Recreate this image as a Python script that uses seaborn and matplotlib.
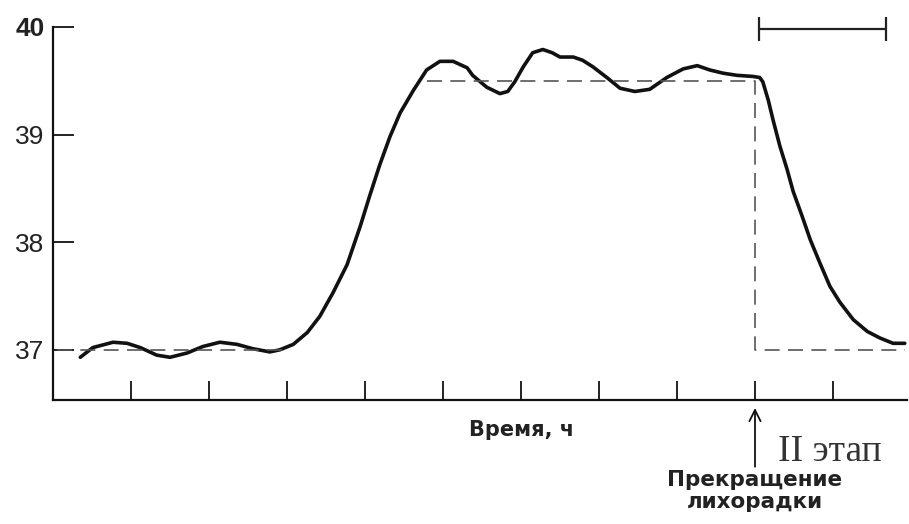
## Temperature curve: fever onset, plateau and end of fever

import seaborn as sns
import matplotlib.pyplot as plt
import pandas as pd

# curve (time in tick units, temperature in C)
time_h = [0.35, 0.51, 0.77, 0.95, 1.12, 1.33, 1.50, 1.72, 1.92, 2.14,
          2.36, 2.56, 2.78, 2.91, 3.08, 3.26, 3.42, 3.59, 3.77, 3.94,
          4.06, 4.19, 4.32, 4.45, 4.62, 4.79, 4.96, 5.13, 5.31, 5.38,
          5.56, 5.73, 5.83, 5.92, 6.03, 6.15, 6.28, 6.40, 6.50, 6.67,
          6.79, 6.92, 7.10, 7.27, 7.46, 7.65, 7.87, 8.08, 8.26, 8.42,
          8.59, 8.77, 8.97, 9.06, 9.10, 9.17, 9.23, 9.32, 9.41, 9.49,
          9.60, 9.71, 9.83, 9.96, 10.09, 10.26, 10.44, 10.60, 10.77, 10.92]
temp_c = [36.93, 37.02, 37.07, 37.06, 37.02, 36.95, 36.93, 36.97, 37.03, 37.07,
          37.05, 37.01, 36.98, 37.00, 37.05, 37.16, 37.31, 37.53, 37.79, 38.15,
          38.43, 38.72, 38.98, 39.20, 39.41, 39.60, 39.68, 39.68, 39.62, 39.55,
          39.44, 39.38, 39.40, 39.49, 39.63, 39.76, 39.79, 39.76, 39.72, 39.72,
          39.69, 39.63, 39.53, 39.43, 39.40, 39.42, 39.53, 39.61, 39.64, 39.60,
          39.57, 39.55, 39.54, 39.53, 39.49, 39.32, 39.14, 38.89, 38.68, 38.47,
          38.25, 38.02, 37.81, 37.59, 37.44, 37.28, 37.17, 37.11, 37.06, 37.06]

# dashed set points
base_x = [0.05, 3.0]
base_y = [37.0, 37.0]
plateau_x = [4.8, 9.0, 9.0, 10.92]
plateau_y = [39.5, 39.5, 37.0, 37.0]

x_ticks = [1, 2, 3, 4, 5, 6, 7, 8, 9, 10]
y_ticks = [37, 38, 39, 40]
y_labels = ['37', '38', '39', '40']

stage_start = 9.05
stage_end = 10.68
fever_end = 9.0

sns.set_theme(style="white")
plt.rcParams['font.family'] = ['Liberation Sans', 'DejaVu Sans']

ink = '#111111'
label_font = ['DejaVu Sans']

fig = plt.figure(figsize=(9.09, 5.24), dpi=100)
ax = fig.add_axes([0.0583, 0.2366, 0.9396, 0.7634])

curve = pd.DataFrame({'time': time_h, 'temp': temp_c})
sns.lineplot(data=curve, x='time', y='temp', ax=ax, color=ink, lw=2.6,
             estimator=None, sort=False, solid_joinstyle='round', solid_capstyle='round')

sns.lineplot(x=base_x, y=base_y, ax=ax, color='#555555', lw=1.2,
             estimator=None, sort=False, linestyle=(0, (9, 5)))
sns.lineplot(x=plateau_x, y=plateau_y, ax=ax, color='#555555', lw=1.2,
             estimator=None, sort=False, linestyle=(0, (9, 5)))

ax.set_xlim(0, 10.95)
ax.set_ylim(36.533, 40.25)

ax.set_xticks(x_ticks)
ax.set_xticklabels([])
ax.set_yticks(y_ticks)
ax.set_yticklabels(y_labels, fontsize=19, color='#222222')
ax.get_yticklabels()[-1].set_fontweight('bold')
ax.tick_params(axis='x', bottom=True, direction='in', length=14, width=1.3, color=ink)
ax.tick_params(axis='y', left=True, direction='in', length=15, width=1.3, color=ink, pad=6)

sns.despine(ax=ax, top=True, right=True)
ax.spines['left'].set_bounds(36.533, 40.0)
for s in ['left', 'bottom']:
    ax.spines[s].set_color(ink)
    ax.spines[s].set_linewidth(1.6)

ax.set_xlabel('Время, ч', fontsize=15, fontweight='bold', color='#222222',
              family=label_font)
ax.set_ylabel('')
ax.xaxis.set_label_coords(0.549, -0.05)

# stage bracket at the top
ax.plot([stage_start, stage_end], [39.98, 39.98], color='#222222', lw=1.6,
        marker='|', markersize=17, markeredgewidth=1.6, clip_on=False)

# arrow to the end of fever
ax.annotate('Прекращение\nлихорадки', xy=(fever_end, -0.02),
            xytext=(fever_end, -0.175),
            xycoords=('data', 'axes fraction'), textcoords=('data', 'axes fraction'),
            ha='center', va='top', fontsize=15.5, fontweight='bold', color='#222222',
            family=label_font, linespacing=1.1,
            arrowprops=dict(arrowstyle='->', color=ink, lw=1.3,
                            shrinkA=0, shrinkB=0, mutation_scale=20),
            annotation_clip=False)

fig.text(778 / 909, 1 - 452 / 524, 'II этап', fontsize=27, color='#333333',
         family=['Liberation Serif', 'DejaVu Serif'], va='center', ha='left')

plt.savefig('out.png', dpi=100)
